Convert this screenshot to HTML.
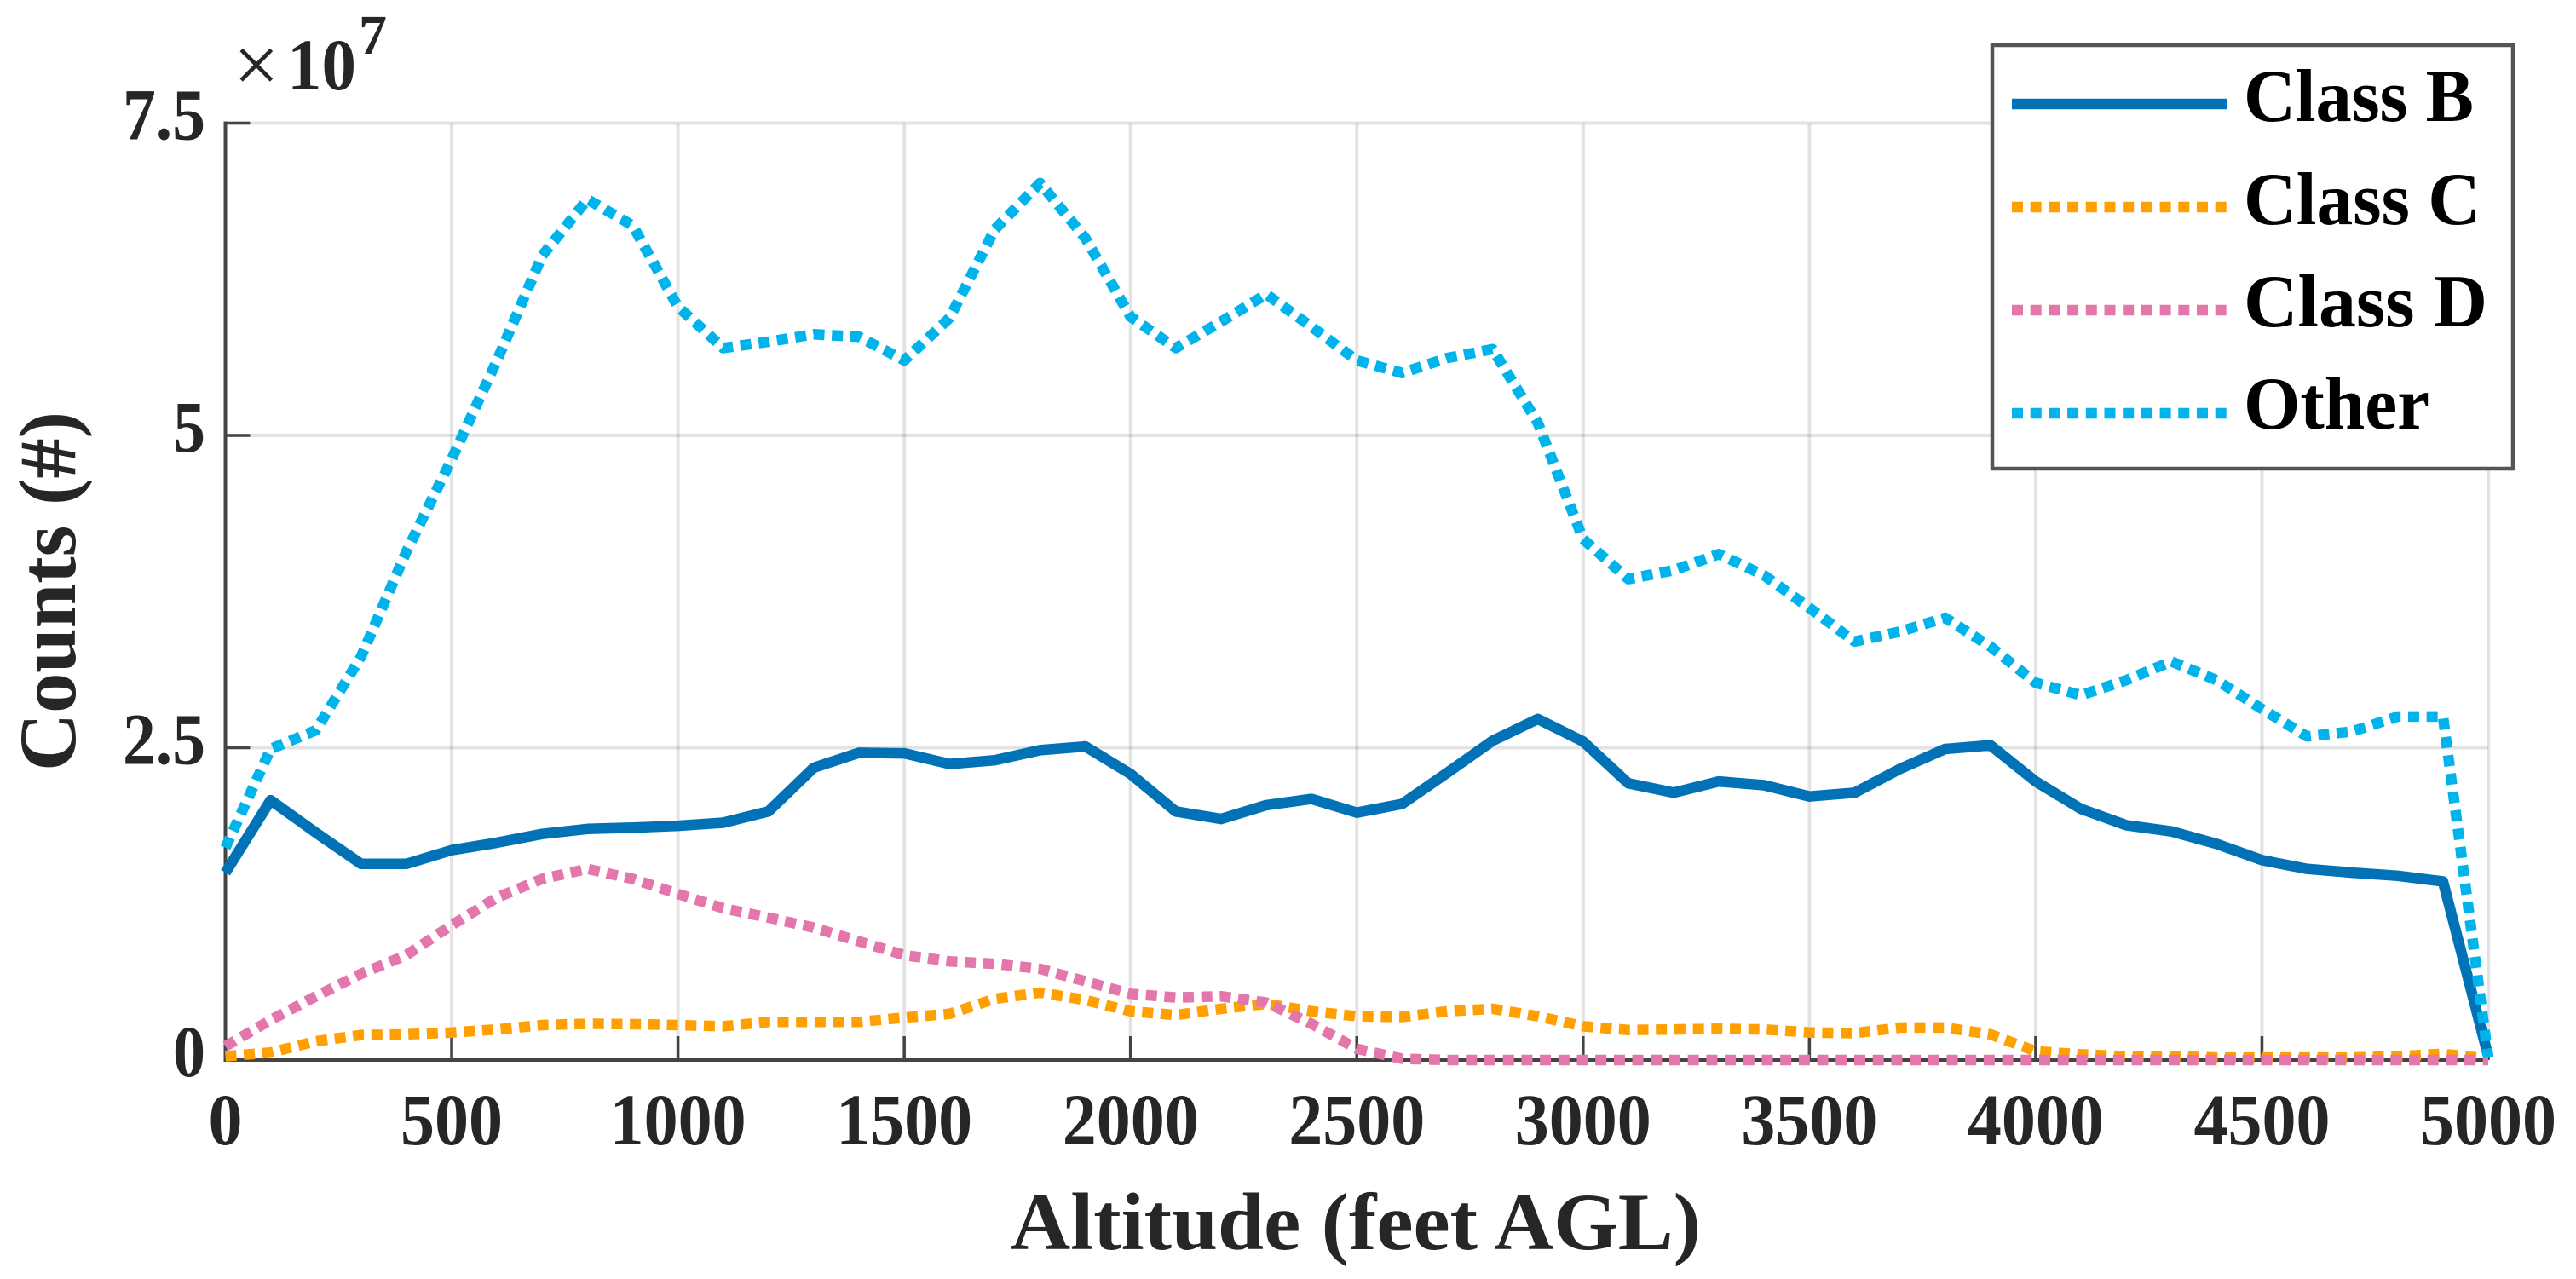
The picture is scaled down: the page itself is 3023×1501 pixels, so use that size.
<!DOCTYPE html>
<html lang="en">
<head>
<meta charset="utf-8">
<title>Counts by altitude</title>
<style>
html,body{margin:0;padding:0;background:#fff;width:3023px;height:1501px;overflow:hidden}
svg{display:block}
text{font-family:"Liberation Serif",serif;fill:#262626}
</style>
</head>
<body>
<svg id="chart" xmlns="http://www.w3.org/2000/svg" width="3023" height="1501" viewBox="0 0 3023 1501">
  <rect x="0" y="0" width="3023" height="1501" fill="#ffffff"/>
  <g id="grid"></g>
  <g id="axes"></g>
  <g id="series"></g>
  <g>
    <text x="274" y="108" font-size="95">×</text>
    <text x="337" y="105" font-size="86" font-weight="bold" textLength="81" lengthAdjust="spacingAndGlyphs">10</text>
    <text x="421" y="63" font-size="66" font-weight="bold" textLength="33" lengthAdjust="spacingAndGlyphs">7</text>
  </g>
  <text x="1186" y="1466" font-size="95" font-weight="bold" textLength="810" lengthAdjust="spacingAndGlyphs">Altitude (feet AGL)</text>
  <text transform="translate(88,905) rotate(-90)" x="0" y="0" font-size="95" font-weight="bold" textLength="422" lengthAdjust="spacingAndGlyphs">Counts (#)</text>
  <g id="legend"></g>
</svg>
<script>
const altitudes = [0,100,200,300,400,500,600,700,800,900,1000,1100,1200,1300,1400,1500,1600,1700,1800,1900,2000,2100,2200,2300,2400,2500,2600,2700,2800,2900,3000,3100,3200,3300,3400,3500,3600,3700,3800,3900,4000,4100,4200,4300,4400,4500,4600,4700,4800,4900,5000];
const classB = [1.50,2.08,1.82,1.57,1.57,1.68,1.74,1.81,1.85,1.86,1.875,1.90,1.99,2.34,2.46,2.455,2.37,2.40,2.48,2.51,2.29,1.99,1.93,2.04,2.09,1.98,2.05,2.30,2.555,2.73,2.55,2.215,2.14,2.23,2.20,2.11,2.14,2.33,2.49,2.52,2.23,2.01,1.88,1.83,1.73,1.60,1.53,1.50,1.475,1.43,0.03];
const classC = [0.03,0.06,0.15,0.20,0.205,0.22,0.245,0.28,0.29,0.287,0.28,0.27,0.305,0.305,0.305,0.34,0.37,0.49,0.54,0.48,0.39,0.36,0.41,0.45,0.39,0.35,0.345,0.39,0.41,0.35,0.27,0.24,0.245,0.25,0.245,0.22,0.215,0.26,0.26,0.205,0.07,0.045,0.03,0.03,0.02,0.02,0.02,0.02,0.03,0.05,0.01];
const classD = [0.11,0.32,0.51,0.69,0.84,1.08,1.30,1.45,1.53,1.45,1.33,1.215,1.14,1.06,0.95,0.84,0.79,0.77,0.73,0.63,0.53,0.50,0.51,0.46,0.29,0.09,0.01,0,0,0,0,0,0,0,0,0,0,0,0,0,0,0,0,0,0,0,0,0,0,0,0];
const classOther = [1.70,2.49,2.64,3.23,4.07,4.81,5.60,6.44,6.89,6.68,6.03,5.70,5.75,5.81,5.79,5.60,5.94,6.65,7.02,6.58,5.95,5.70,5.91,6.13,5.87,5.60,5.50,5.62,5.69,5.10,4.17,3.85,3.92,4.05,3.88,3.62,3.35,3.43,3.54,3.31,3.02,2.92,3.04,3.19,3.04,2.81,2.59,2.63,2.75,2.75,0.02];
const xTicks = [0,500,1000,1500,2000,2500,3000,3500,4000,4500,5000];
const yTicks = [0,2.5,5,7.5];
const yTickLabels = ["0","2.5","5","7.5"];
const seriesNames = ["Class B","Class C","Class D","Other"];

const NS = "http://www.w3.org/2000/svg";
const plot = {left:264.5, right:2920, top:144.5, bottom:1244, xMax:5000, yMax:7.5};
function xScale(v){ return plot.left + (v/plot.xMax)*(plot.right-plot.left); }
function yScale(v){ return plot.bottom - (v/plot.yMax)*(plot.bottom-plot.top); }
function make(parent, tag, attrs){
  const el = document.createElementNS(NS, tag);
  for (const k in attrs) el.setAttribute(k, attrs[k]);
  parent.appendChild(el);
  return el;
}
const gridG = document.getElementById("grid");
const axesG = document.getElementById("axes");
const seriesG = document.getElementById("series");
const legendG = document.getElementById("legend");

xTicks.forEach(function(t){
  const g = make(gridG,"line",{x1:xScale(t),x2:xScale(t),y1:plot.top,y2:plot.bottom,stroke:"#000000","stroke-opacity":0.11,"stroke-width":4});
  
  
});
yTicks.forEach(function(t){
  const g = make(gridG,"line",{x1:plot.left,x2:plot.right,y1:yScale(t),y2:yScale(t),stroke:"#000000","stroke-opacity":0.11,"stroke-width":4});
  
  
});

const xAxisLine = make(axesG,"line",{x1:plot.left-2,x2:plot.right,y1:plot.bottom,y2:plot.bottom,stroke:"#444444","stroke-width":4});


const yAxisLine = make(axesG,"line",{x1:plot.left,x2:plot.left,y1:plot.top-2,y2:plot.bottom,stroke:"#444444","stroke-width":4});



xTicks.forEach(function(t){
  const tick = make(axesG,"line",{x1:xScale(t),x2:xScale(t),y1:plot.bottom,y2:plot.bottom-28,stroke:"#444444","stroke-width":3.5});
  
  
  const s = String(t);
  const label = make(axesG,"text",{x:xScale(t),y:1343,"font-size":86,"font-weight":"bold","text-anchor":"middle",textLength:s.length*40,lengthAdjust:"spacingAndGlyphs"});
  
  
  label.textContent = s;
});
yTicks.forEach(function(t,i){
  const tick = make(axesG,"line",{x1:plot.left,x2:plot.left+29,y1:yScale(t),y2:yScale(t),stroke:"#444444","stroke-width":3.5});
  
  
  const s = yTickLabels[i];
  const w = s.length===3 ? 97 : 38;
  const label = make(axesG,"text",{x:241,y:yScale(t)+19,"font-size":86,"font-weight":"bold","text-anchor":"end",textLength:w,lengthAdjust:"spacingAndGlyphs"});
  
  
  label.textContent = s;
});

const seriesValues = [classB,classC,classD,classOther];
const seriesColors = ["#0072B5","#FFA000","#E377AC","#00B4EB"];
const seriesDash = ["none","13 8.7","13 8.7","13 8.7"];
const seriesKeys = ["class-b","class-c","class-d","other"];
seriesValues.forEach(function(vals,i){
  const pts = vals.map(function(v,j){ return xScale(altitudes[j]).toFixed(1)+","+yScale(v).toFixed(1); }).join(" ");
  const line = make(seriesG,"polyline",{points:pts,fill:"none",stroke:seriesColors[i],"stroke-width":12.5,"stroke-linejoin":"round","stroke-dasharray":seriesDash[i]});
  
  
});

const box = make(legendG,"rect",{x:2338,y:53,width:611,height:497,fill:"#ffffff",stroke:"#555555","stroke-width":4.5});


const legendLineY = [122,243,364,485];
const legendTextY = [142,263,383,503];
const legendTextW = [270,278,286,218];
seriesNames.forEach(function(name,i){
  const sw = make(legendG,"line",{x1:2361,x2:2613.5,y1:legendLineY[i],y2:legendLineY[i],stroke:seriesColors[i],"stroke-width":12.5,"stroke-dasharray":seriesDash[i]});
  
  
  const t = make(legendG,"text",{x:2633,y:legendTextY[i],"font-size":88,"font-weight":"bold",textLength:legendTextW[i],lengthAdjust:"spacingAndGlyphs",style:"fill:#000"});
  
  
  t.textContent = name;
});
</script>
</body>
</html>
